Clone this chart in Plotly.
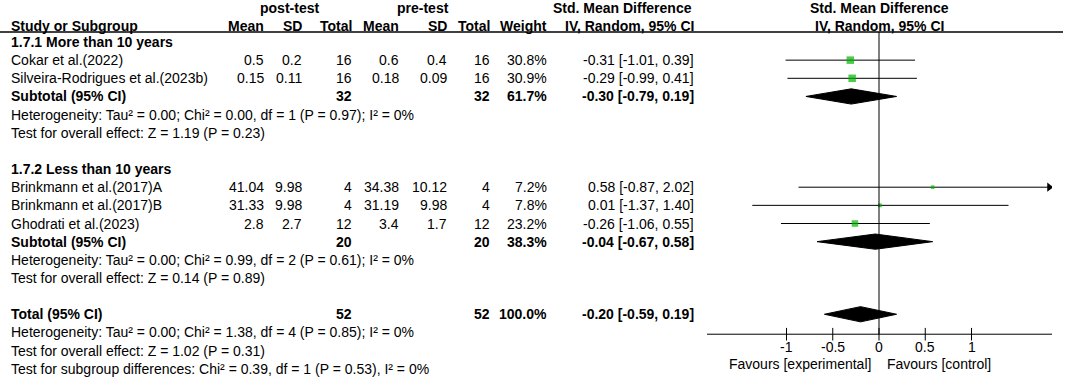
import plotly.graph_objects as go

# ---------------- data ----------------
group_names = ["1.7.1 More than 10 years", "1.7.2 Less than 10 years"]
studies = ["Cokar et al.(2022)", "Silveira-Rodrigues et al.(2023b)",
           "Brinkmann et al.(2017)A", "Brinkmann et al.(2017)B", "Ghodrati et al.(2023)"]
study_group = [0, 0, 1, 1, 1]
post_mean = ["0.5", "0.15", "41.04", "31.33", "2.8"]
post_sd = ["0.2", "0.11", "9.98", "9.98", "2.7"]
post_n = [16, 16, 4, 4, 12]
pre_mean = ["0.6", "0.18", "34.38", "31.19", "3.4"]
pre_sd = ["0.4", "0.09", "10.12", "9.98", "1.7"]
pre_n = [16, 16, 4, 4, 12]
weight = [30.8, 30.9, 7.2, 7.8, 23.2]
smd = [-0.31, -0.29, 0.58, 0.01, -0.26]
ci_lo = [-1.01, -0.99, -0.87, -1.37, -1.06]
ci_hi = [0.39, 0.41, 2.02, 1.40, 0.55]

sub_post_n = [32, 20]
sub_pre_n = [32, 20]
sub_weight = [61.7, 38.3]
sub_smd = [-0.30, -0.04]
sub_lo = [-0.79, -0.67]
sub_hi = [0.19, 0.58]
sub_het = ["Heterogeneity: Tau² = 0.00; Chi² = 0.00, df = 1 (P = 0.97); I² = 0%",
           "Heterogeneity: Tau² = 0.00; Chi² = 0.99, df = 2 (P = 0.61); I² = 0%"]
sub_test = ["Test for overall effect: Z = 1.19 (P = 0.23)",
            "Test for overall effect: Z = 0.14 (P = 0.89)"]

tot_post_n = 52
tot_pre_n = 52
tot_weight = 100.0
tot_smd = -0.20
tot_lo = -0.59
tot_hi = 0.19
tot_het = "Heterogeneity: Tau² = 0.00; Chi² = 1.38, df = 4 (P = 0.85); I² = 0%"
tot_test = "Test for overall effect: Z = 1.02 (P = 0.31)"
subgroup_test = "Test for subgroup differences: Chi² = 0.39, df = 1 (P = 0.53), I² = 0%"

tick_vals = [-1, -0.5, 0, 0.5, 1]
tick_text = ["-1", "-0.5", "0", "0.5", "1"]
fav_left = "Favours [experimental]"
fav_right = "Favours [control]"

# ---------------- layout constants ----------------
W, H = 1065, 382
FONT = "Liberation Sans, Arial, sans-serif"
FS = 14
X_MIN, X_MAX = -1.8595, 1.8703
PLOT_L, PLOT_R = 707, 1052
ROW0_PX, ROW_H = 42, 18.15
Y_TOP = -ROW0_PX / ROW_H
Y_BOT = (H - ROW0_PX) / ROW_H
AXIS_ROW = 16.1

COL = dict(label=9, pmean=266, psd=304, pn=354, qmean=401, qsd=449, qn=492,
           wt=549, ci=696)
POST_C, PRE_C, CIH_C = 289, 423, 622
GREEN = "#00B400"

fig = go.Figure()
ann = []


def txt(x, r, s, anchor="left", bold=False, xref="x"):
    ann.append(dict(x=x, y=r, xref=xref, yref="y", text=f"<b>{s}</b>" if bold else s,
                    showarrow=False, xanchor=anchor, yanchor="middle",
                    font=dict(family=FONT, size=FS, color="#000")))


def ci_str(m, lo, hi):
    return f"{m:.2f} [{lo:.2f}, {hi:.2f}]"


# headers
r1, r2 = -1.85, -0.88
txt(POST_C, r1, "post-test", "center", True)
txt(PRE_C, r1, "pre-test", "center", True)
txt(CIH_C, r1, "Std. Mean Difference", "center", True)
txt(0, r1, "Std. Mean Difference", "center", True, xref="x2")
txt(COL["label"], r2, "Study or Subgroup", "left", True)
for key, s in [("pmean", "Mean"), ("psd", "SD"), ("pn", "Total"), ("qmean", "Mean"),
               ("qsd", "SD"), ("qn", "Total"), ("wt", "Weight"), ("ci", "IV, Random, 95% CI")]:
    txt(COL[key], r2, s, "right", True)
txt(0, r2, "IV, Random, 95% CI", "center", True, xref="x2")

# rows
study_rows = []
r = 0
sub_rows = []
for g in range(len(group_names)):
    txt(COL["label"], r, group_names[g], "left", True)
    r += 1
    for i in range(len(studies)):
        if study_group[i] != g:
            continue
        study_rows.append(r)
        txt(COL["label"], r, studies[i])
        txt(COL["pmean"], r, post_mean[i], "right")
        txt(COL["psd"], r, post_sd[i], "right")
        txt(COL["pn"], r, str(post_n[i]), "right")
        txt(COL["qmean"], r, pre_mean[i], "right")
        txt(COL["qsd"], r, pre_sd[i], "right")
        txt(COL["qn"], r, str(pre_n[i]), "right")
        txt(COL["wt"], r, f"{weight[i]:.1f}%", "right")
        txt(COL["ci"], r, ci_str(smd[i], ci_lo[i], ci_hi[i]), "right")
        r += 1
    sub_rows.append(r)
    txt(COL["label"], r, "Subtotal (95% CI)", "left", True)
    txt(COL["pn"], r, str(sub_post_n[g]), "right", True)
    txt(COL["qn"], r, str(sub_pre_n[g]), "right", True)
    txt(COL["wt"], r, f"{sub_weight[g]:.1f}%", "right", True)
    txt(COL["ci"], r, ci_str(sub_smd[g], sub_lo[g], sub_hi[g]), "right", True)
    r += 1
    txt(COL["label"], r, sub_het[g])
    r += 1
    txt(COL["label"], r, sub_test[g])
    r += 2
tot_row = r
txt(COL["label"], r, "Total (95% CI)", "left", True)
txt(COL["pn"], r, str(tot_post_n), "right", True)
txt(COL["qn"], r, str(tot_pre_n), "right", True)
txt(COL["wt"], r, f"{tot_weight:.1f}%", "right", True)
txt(COL["ci"], r, ci_str(tot_smd, tot_lo, tot_hi), "right", True)
txt(COL["label"], r + 1, tot_het)
txt(COL["label"], r + 2, tot_test)
txt(COL["label"], r + 3, subgroup_test)

# tick labels and favours
for v, s in zip(tick_vals, tick_text):
    txt(v, AXIS_ROW + 0.72, s, "center", xref="x2")
txt(-0.07, AXIS_ROW + 1.65, fav_left, "right", xref="x2")
txt(0.07, AXIS_ROW + 1.65, fav_right, "left", xref="x2")

# ---------------- forest marks ----------------
for i, rr in enumerate(study_rows):
    lo = max(ci_lo[i], X_MIN)
    hi = min(ci_hi[i], X_MAX)
    fig.add_trace(go.Scatter(x=[lo, hi], y=[rr, rr], mode="lines", xaxis="x2", yaxis="y",
                             line=dict(color="black", width=1), hoverinfo="skip"))
    if ci_hi[i] > X_MAX:
        fig.add_trace(go.Scatter(x=[X_MAX - 0.03], y=[rr], mode="markers", xaxis="x2",
                                 yaxis="y", marker=dict(symbol="triangle-right", size=8,
                                                        color="black"), hoverinfo="skip"))
fig.add_trace(go.Scatter(x=smd, y=study_rows, mode="markers", xaxis="x2", yaxis="y",
                         marker=dict(symbol="square", color=GREEN,
                                     size=[1.35 * w ** 0.5 for w in weight],
                                     line=dict(width=0)), hoverinfo="skip"))

DH = 0.42
for m, lo, hi, rr in list(zip(sub_smd, sub_lo, sub_hi, sub_rows)) + [(tot_smd, tot_lo, tot_hi, tot_row)]:
    fig.add_trace(go.Scatter(x=[lo, m, hi, m, lo], y=[rr, rr - DH, rr, rr + DH, rr],
                             mode="lines", fill="toself", fillcolor="black",
                             line=dict(color="black", width=1), xaxis="x2", yaxis="y",
                             hoverinfo="skip"))

# ticks crossing the axis
fig.add_trace(go.Scatter(x=tick_vals, y=[AXIS_ROW] * len(tick_vals), mode="markers",
                         xaxis="x2", yaxis="y",
                         marker=dict(symbol="line-ns", size=9,
                                     line=dict(color="black", width=1)), hoverinfo="skip"))

shapes = [
    dict(type="line", xref="x", yref="y", x0=0, x1=1063, y0=-0.55, y1=-0.55,
         line=dict(color="black", width=1.5)),
    dict(type="line", xref="x2", yref="y", x0=0, x1=0, y0=-0.55, y1=AXIS_ROW,
         line=dict(color="black", width=1)),
    dict(type="line", xref="x2", yref="y", x0=X_MIN, x1=X_MAX, y0=AXIS_ROW, y1=AXIS_ROW,
         line=dict(color="black", width=1)),
]

fig.update_layout(
    width=W, height=H, margin=dict(l=0, r=0, t=0, b=0, pad=0),
    paper_bgcolor="white", plot_bgcolor="rgba(0,0,0,0)", showlegend=False,
    xaxis=dict(range=[0, W], domain=[0, 1], visible=False, fixedrange=True),
    xaxis2=dict(range=[X_MIN, X_MAX], domain=[PLOT_L / W, PLOT_R / W],
                anchor="y", visible=False, fixedrange=True),
    yaxis=dict(range=[Y_BOT, Y_TOP], domain=[0, 1], visible=False, fixedrange=True),
    annotations=ann, shapes=shapes,
)
fig.write_html("out.html", config={"displayModeBar": False},
               post_script="document.body.style.margin='0';document.body.style.overflow='hidden';")
